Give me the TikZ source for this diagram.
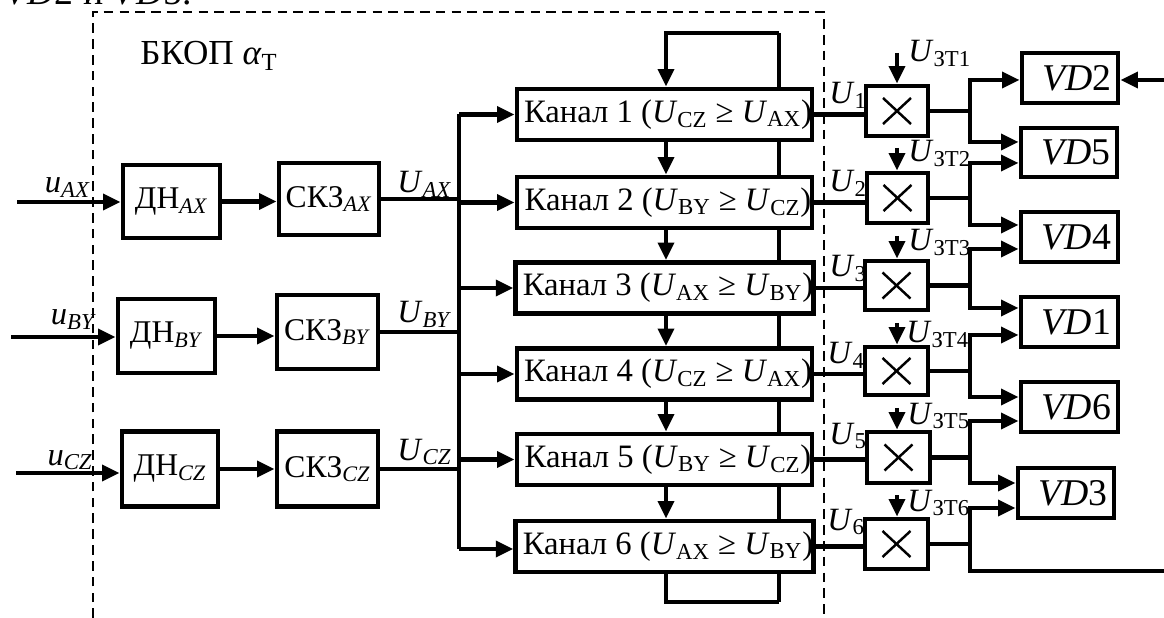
\documentclass[tikz,border=0pt]{standalone}
\usepackage{fontspec}
\setmainfont{Liberation Serif}
\usetikzlibrary{arrows.meta}
\tikzset{
  bx/.style n args={2}{draw, line width=2.7pt, fill=white, inner sep=0pt,
    minimum width={#1*0.02cm}, minimum height={#2*0.02cm}},
  conn/.style={line width=2.3pt},
  arr/.style={conn, -{Triangle[length=10pt,width=9pt]}},
  dsh/.style={line width=1.1pt, dash pattern=on 5.5pt off 3.5pt},
  lbl/.style={inner sep=0pt, font=\fontsize{18.5}{20}\selectfont},
  btxt/.style={font=\fontsize{18}{20}\selectfont},
  ktxt/.style={font=\fontsize{18.6}{20}\selectfont},
  vtxt/.style={font=\fontsize{21.5}{24}\selectfont},
  cross/.style={line width=1.4pt},
}
\newcommand{\Ui}[1]{\textit{U}\textsubscript{#1}}
\newcommand{\Kan}[4]{\hspace*{4pt}Канал #1 (\Ui{#2} ≥ \Ui{#3})#4}
\begin{document}
\begin{tikzpicture}[x=0.02cm,y=-0.02cm]
\useasboundingbox (0,0) rectangle (1164,618);

% cut-off text at the top
\node[lbl, anchor=base east, font=\fontsize{21.5}{24}\selectfont] (toptext) at (192,5) {\textit{VD}2 и \textit{VD}5.};

% dashed frame
\coordinate (f1) at (93,618);
\coordinate (f2) at (93,12);
\coordinate (f3) at (824,12);
\coordinate (f4) at (824,618);
\draw[dsh] (f1) -- (f2) -- (f3) -- (f4);

\node[lbl, anchor=base west, font=\fontsize{20}{24}\selectfont] (title) at (140,65) {БКОП \textit{α}\textsubscript{Т}};

% feedback vertical line (behind channel boxes)
\coordinate (lt1) at (666,33);
\coordinate (lt2) at (779,33);
\coordinate (lb1) at (666,602);
\coordinate (lb2) at (779,602);
\draw[conn] (lt2) -- (lb2);

% input blocks
\node[bx={97}{73}, btxt] (dn1) at (171.5,201.5) {ДН\textsubscript{\textit{AX}}};
\node[bx={100}{72}, btxt] (sk1) at (329,199) {СКЗ\textsubscript{\textit{AX}}};
\node[bx={97}{74}, btxt] (dn2) at (166.5,336) {ДН\textsubscript{\textit{BY}}};
\node[bx={101}{74}, btxt] (sk2) at (327.5,332) {СКЗ\textsubscript{\textit{BY}}};
\node[bx={96}{75}, btxt] (dn3) at (170,469) {ДН\textsubscript{\textit{CZ}}};
\node[bx={101}{75}, btxt] (sk3) at (327.5,469) {СКЗ\textsubscript{\textit{CZ}}};

% inputs
\coordinate (in1) at (17,202);
\coordinate (in2) at (11,337);
\coordinate (in3) at (16,473);
\draw[arr] (in1) -- (in1 -| dn1.west);
\draw[arr] (in2) -- (in2 -| dn2.west);
\draw[arr] (in3) -- (in3 -| dn3.west);
\node[lbl, anchor=base east] (lu1) at (91,193) {\textit{u}\textsubscript{\textit{AX}}};
\node[lbl, anchor=base east] (lu2) at (97,325) {\textit{u}\textsubscript{\textit{BY}}};
\node[lbl, anchor=base east] (lu3) at (93,465) {\textit{u}\textsubscript{\textit{CZ}}};

\draw[arr] (dn1.east) -- (dn1.east -| sk1.west);
\draw[arr] (dn2.east) -- (dn2.east -| sk2.west);
\draw[arr] (dn3.east) -- (dn3.east -| sk3.west);

% channels
\node[bx={295}{51}, ktxt] (k1) at (664.5,114.5) {\Kan{1}{CZ}{AX}{}};
\node[bx={295}{51}, ktxt] (k2) at (664.5,202.5) {\Kan{2}{BY}{CZ}{}};
\node[bx={295}{51}, ktxt] (k3) at (664.5,288) {\Kan{3}{AX}{BY}{}};
\node[bx={295}{51}, ktxt] (k4) at (664.5,374) {\Kan{4}{CZ}{AX}{}};
\node[bx={295}{51}, ktxt] (k5) at (664.5,459.5) {\Kan{5}{BY}{CZ}{}};
\node[bx={295}{51}, ktxt] (k6) at (664.5,546.5) {\Kan{6}{AX}{BY}{}};

% bus
\coordinate (bT) at (459,114.5);
\coordinate (bB) at (459,549);
\draw[conn] (bT) -- (bB);
\draw[conn] (sk1.east) -- (sk1.east -| bT);
\draw[conn] (sk2.east) -- (sk2.east -| bT);
\draw[conn] (sk3.east) -- (sk3.east -| bT);
\node[lbl, anchor=base west] (lU1) at (397,193) {\textit{U}\textsubscript{\textit{AX}}};
\node[lbl, anchor=base west] (lU2) at (397,323) {\textit{U}\textsubscript{\textit{BY}}};
\node[lbl, anchor=base west] (lU3) at (397,460) {\textit{U}\textsubscript{\textit{CZ}}};
\foreach \k in {k1,k2,k3,k4,k5}{\draw[arr] (\k.west -| bT) -- (\k.west);}
\draw[arr] (bB) -- (bB -| k6.west);

% feedback loops and chain arrows
\draw[arr] (lt2) -- (lt1) -- (k1.north -| lt1);
\draw[conn] (k6.south -| lb1) -- (lb1) -- (lb2);
\draw[arr] (k1.south -| lt1) -- (k2.north -| lt1);
\draw[arr] (k2.south -| lt1) -- (k3.north -| lt1);
\draw[arr] (k3.south -| lt1) -- (k4.north -| lt1);
\draw[arr] (k4.south -| lt1) -- (k5.north -| lt1);
\draw[arr] (k5.south -| lt1) -- (k6.north -| lt1);

% multipliers
\node[bx={62}{50}] (m1) at (897,111) {};
\node[bx={61}{50}] (m2) at (897.5,198) {};
\node[bx={63}{49}] (m3) at (896.5,285.5) {};
\node[bx={63}{48}] (m4) at (896.5,371) {};
\node[bx={63}{51}] (m5) at (898.5,457.5) {};
\node[bx={63}{50}] (m6) at (896.5,544) {};
\foreach \m in {m1,m2,m3,m4,m5,m6}{
  \draw[cross] ([shift={(-14,-13)}]\m.center) -- ([shift={(14,13)}]\m.center);
  \draw[cross] ([shift={(-14,13)}]\m.center) -- ([shift={(14,-13)}]\m.center);
}
\draw[conn] (k1.east) -- (k1.east -| m1.west);
\draw[conn] (k2.east) -- (k2.east -| m2.west);
\draw[conn] (k3.east) -- (k3.east -| m3.west);
\draw[conn] (k4.east) -- (k4.east -| m4.west);
\draw[conn] (k5.east) -- (k5.east -| m5.west);
\draw[conn] (k6.east) -- (k6.east -| m6.west);

% U_i labels
\node[lbl, anchor=base west] (u1) at (829,104) {\textit{U}\textsubscript{1}};
\node[lbl, anchor=base west] (u2) at (829,192) {\textit{U}\textsubscript{2}};
\node[lbl, anchor=base west] (u3) at (829,277) {\textit{U}\textsubscript{3}};
\node[lbl, anchor=base west] (u4) at (827,364) {\textit{U}\textsubscript{4}};
\node[lbl, anchor=base west] (u5) at (829,444) {\textit{U}\textsubscript{5}};
\node[lbl, anchor=base west] (u6) at (827,530) {\textit{U}\textsubscript{6}};

% control inputs
\coordinate (z1) at (897,53);
\coordinate (z2) at (897,148);
\coordinate (z3) at (897,236);
\coordinate (z4) at (897,323);
\coordinate (z5) at (897,408);
\coordinate (z6) at (897,495);
\foreach \i in {1,...,6}{\draw[arr] (z\i) -- (z\i |- m\i.north);}
\node[lbl, anchor=base west] (c1) at (908,62) {\textit{U}\textsubscript{ЗТ1}};
\node[lbl, anchor=base west] (c2) at (908,162) {\textit{U}\textsubscript{ЗТ2}};
\node[lbl, anchor=base west] (c3) at (908,251) {\textit{U}\textsubscript{ЗТ3}};
\node[lbl, anchor=base west] (c4) at (906,343) {\textit{U}\textsubscript{ЗТ4}};
\node[lbl, anchor=base west] (c5) at (907,424) {\textit{U}\textsubscript{ЗТ5}};
\node[lbl, anchor=base west] (c6) at (907,511) {\textit{U}\textsubscript{ЗТ6}};

% VD blocks
\node[bx={96}{50}, vtxt] (vd2) at (1070,78) {\hspace*{8pt}\textit{VD}2};
\node[bx={96}{49}, vtxt] (vd5) at (1069,152.5) {\hspace*{8pt}\textit{VD}5};
\node[bx={97}{50}, vtxt] (vd4) at (1069.5,237) {\hspace*{8pt}\textit{VD}4};
\node[bx={97}{50}, vtxt] (vd1) at (1069.5,322) {\hspace*{8pt}\textit{VD}1};
\node[bx={97}{50}, vtxt] (vd6) at (1069.5,407) {\hspace*{8pt}\textit{VD}6};
\node[bx={96}{50}, vtxt] (vd3) at (1066,493) {\hspace*{8pt}\textit{VD}3};

% distribution
\coordinate (j) at (970,0);
\draw[conn] (m1.east) -- (m1.east -| j);
\draw[conn] (m2.east) -- (m2.east -| j);
\draw[conn] (m3.east) -- (m3.east -| j);
\draw[conn] (m4.east) -- (m4.east -| j);
\draw[conn] (m5.east) -- (m5.east -| j);
\draw[conn] (m6.east) -- (m6.east -| j);
\draw[arr] (m1.east -| j) |- (vd2.west |- 0,80);
\draw[arr] (m1.east -| j) |- (vd5.west |- 0,142);
\draw[arr] (m2.east -| j) |- (vd5.west |- 0,163);
\draw[arr] (m2.east -| j) |- (vd4.west |- 0,225);
\draw[arr] (m3.east -| j) |- (vd4.west |- 0,249);
\draw[arr] (m3.east -| j) |- (vd1.west |- 0,308);
\draw[arr] (m4.east -| j) |- (vd1.west |- 0,335);
\draw[arr] (m4.east -| j) |- (vd6.west |- 0,397);
\draw[arr] (m5.east -| j) |- (vd6.west |- 0,421);
\draw[arr] (m5.east -| j) |- (vd3.west |- 0,483);
\draw[arr] (m6.east -| j) |- (vd3.west |- 0,508);
\coordinate (out6) at (1164,571);
\coordinate (in6) at (1164,80);
\draw[conn] (m6.east -| j) |- (out6);
\draw[arr] (in6) -- (in6 -| vd2.east);
\end{tikzpicture}
\end{document}
